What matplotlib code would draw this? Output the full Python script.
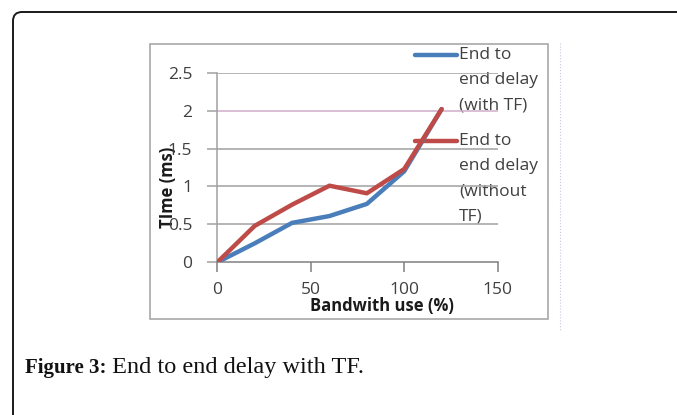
import matplotlib
matplotlib.use("Agg")
import matplotlib.pyplot as plt
from matplotlib.patches import FancyBboxPatch, Rectangle
from matplotlib.lines import Line2D

# ---- data ----
bandwidth = [0, 20, 40, 60, 80, 100, 120]
delay_with_tf = [0.0, 0.25, 0.52, 0.61, 0.77, 1.20, 2.02]
delay_without_tf = [0.0, 0.48, 0.76, 1.01, 0.91, 1.23, 2.02]
series_labels = [["End to", "end delay", "(with TF)"],
                 ["End to", "end delay", "(without", "TF)"]]
x_ticks = [0, 50, 100, 150]
y_ticks = [0, 0.5, 1, 1.5, 2, 2.5]
y_tick_labels = ["0", "0.5", "1", "1.5", "2", "2.5"]
x_label = "Bandwith use (%)"
y_label = "TIme (ms)"
caption_bold = "Figure 3:"
caption_text = " End to end delay with TF."

W, H = 677, 415
fig = plt.figure(figsize=(W / 100, H / 100), dpi=100)

# background / decoration axes in pixel coordinates
bg = fig.add_axes([0, 0, 1, 1], zorder=0)
bg.set_xlim(0, W)
bg.set_ylim(H, 0)
bg.axis("off")

bg.add_patch(FancyBboxPatch((13, 12), 720, 450,
                            boxstyle="round,pad=0,rounding_size=9",
                            fc="white", ec="#1a1a1a", lw=1.4))
bg.add_patch(Rectangle((150, 44), 398, 275, fc="white", ec="#a8a8a8", lw=1.2))
bg.plot([560, 560], [43, 330], color="#c8c8dc", lw=0.8, ls=":")

font = "Open Sans"
tick_col = "#404040"
grid_col = "#a0a0a0"

# plot axes
ax = fig.add_axes([217.3 / W, 1 - 262.3 / H, (497.7 - 217.3) / W, (262.3 - 72.7) / H], zorder=2)
ax.patch.set_alpha(0)
ax.set_xlim(0, 150)
ax.set_ylim(0, 2.5)

for yv in y_ticks[1:]:
    c = "#cfaecb" if yv == 2 else grid_col
    ax.axhline(yv, color=c, lw=1.1, zorder=1)

ax.plot(bandwidth, delay_with_tf, color="#4a7ebb", lw=3.2, solid_capstyle="round", zorder=3)
ax.plot(bandwidth, delay_without_tf, color="#be4b48", lw=3.2, solid_capstyle="round", zorder=4)

for s in ["top", "right"]:
    ax.spines[s].set_visible(False)
ax.spines["left"].set_color(grid_col)
ax.spines["bottom"].set_color("#808080")
ax.spines["left"].set_linewidth(1.1)
ax.spines["bottom"].set_linewidth(1.1)

ax.set_xticks(x_ticks)
ax.set_yticks(y_ticks)
ax.set_yticklabels(y_tick_labels)
ax.tick_params(axis="y", length=7, width=1.1, color=grid_col, pad=11,
               labelsize=12.5, labelcolor=tick_col)
ax.tick_params(axis="x", length=7, width=1.1, color="#808080", pad=7,
               labelsize=12.5, labelcolor=tick_col)
for lab in ax.get_xticklabels() + ax.get_yticklabels():
    lab.set_fontfamily(font)

# axis labels
bg.text(382, 306, x_label, ha="center", va="center", fontsize=12,
        fontweight="bold", family=font, color="#1a1a1a", zorder=5)
bg.text(168, 187, y_label, ha="center", va="center", rotation=90, fontsize=12,
        fontweight="bold", family=font, color="#1a1a1a", zorder=5)

# legend
leg_colors = ["#4a7ebb", "#be4b48"]
leg_y = [55, 141]
for col, y0, lines in zip(leg_colors, leg_y, series_labels):
    bg.add_artist(Line2D([415, 457], [y0, y0], color=col, lw=3.2,
                         solid_capstyle="round", zorder=6))
    for i, t in enumerate(lines):
        bg.text(459, y0 + i * 25, t, ha="left", va="center", fontsize=12.5,
                family=font, color=tick_col, zorder=7)

# caption
t1 = bg.text(25, 373, caption_bold, ha="left", va="baseline", fontsize=15,
             fontweight="bold", family="Liberation Serif", color="#111111")
fig.canvas.draw()
bb = t1.get_window_extent()
x1 = bg.transData.inverted().transform((bb.x1, bb.y0))[0]
bg.text(x1, 373, caption_text, ha="left", va="baseline", fontsize=17.5,
        family="Liberation Serif", color="#111111")

fig.savefig("out.png", dpi=100)
